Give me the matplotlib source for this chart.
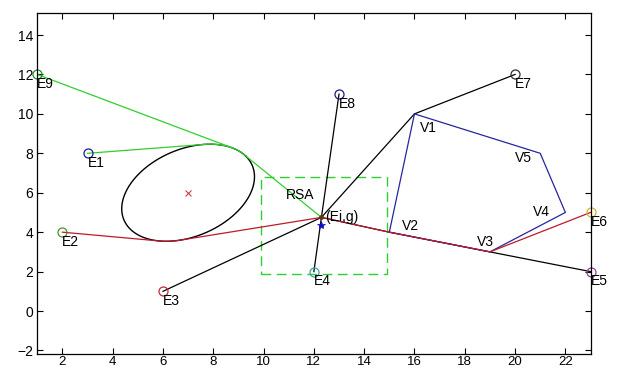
import numpy as np
import matplotlib
matplotlib.use("Agg")
import matplotlib.pyplot as plt

plt.rcParams['font.family'] = ['Liberation Sans', 'DejaVu Sans']

# Emitters E1..E9
emit_names = ['E1', 'E2', 'E3', 'E4', 'E5', 'E6', 'E7', 'E8', 'E9']
emit_x = [3, 2, 6, 12, 23, 23, 20, 13, 1]
emit_y = [8, 4, 1, 2, 2, 5, 12, 11, 12]
emit_colors = ['#1c1c96', '#4f8f2a', '#c4283a', '#3aa3a3', '#9a3c9a',
               '#d2b22a', '#303030', '#1c1c84', '#2c8c2c']

# Obstacle polygon V1..V5
vert_names = ['V1', 'V2', 'V3', 'V4', 'V5']
vert_x = [16, 15, 19, 22, 21]
vert_y = [10, 4, 3, 5, 8]
vert_label_x = [16.2, 15.5, 18.5, 20.7, 20.0]
vert_label_y = [9.3, 4.3, 3.5, 5.0, 7.75]

# Goal point and estimate
goal = (12.3, 4.75)
estimate = (12.3, 4.35)

# Elliptical obstacle
ell_center = (7.0, 6.0)
ell_a, ell_b, ell_angle = 2.95, 2.08, 39.0

# RSA region
rsa_x = [9.9, 14.9]
rsa_y = [1.9, 6.8]

phi = np.deg2rad(ell_angle)
u = np.array([np.cos(phi), np.sin(phi)])
v = np.array([-np.sin(phi), np.cos(phi)])
c = np.array(ell_center)


def ell_point(t):
    t = np.atleast_1d(t)
    return (c[:, None] + ell_a * np.cos(t) * u[:, None] + ell_b * np.sin(t) * v[:, None])


def tangent_params(p):
    d = np.array(p) - c
    q = np.array([d @ u / ell_a, d @ v / ell_b])
    r = np.hypot(*q)
    base = np.arctan2(q[1], q[0])
    off = np.arccos(1.0 / r)
    return [base + off, base - off]


def pick(p, key):
    ts = tangent_params(p)
    pts = [ell_point(t)[:, 0] for t in ts]
    i = max(range(2), key=lambda k: key(pts[k]))
    return ts[i] % (2 * np.pi)


def arc(t0, t1, ccw):
    if ccw:
        while t1 < t0:
            t1 += 2 * np.pi
    else:
        while t1 > t0:
            t1 -= 2 * np.pi
    return ell_point(np.linspace(t0, t1, 80))


fig = plt.figure(figsize=(6.17, 3.70), dpi=100)
ax = fig.add_axes([0.0603, 0.0432, 0.8968, 0.9224])

green = '#2fcf2f'
red = '#c0182c'
blue = '#26269e'
fs = 10

# Ellipse outline
tt = np.linspace(0, 2 * np.pi, 300)
ep = ell_point(tt)
ax.plot(ep[0], ep[1], color='black', lw=1.0)
ax.plot(*ell_center, marker='x', color='#d04040', ms=4, mew=0.8)

# RSA box
ax.plot([rsa_x[0], rsa_x[1], rsa_x[1], rsa_x[0], rsa_x[0]],
        [rsa_y[0], rsa_y[0], rsa_y[1], rsa_y[1], rsa_y[0]],
        color=green, lw=1.0, ls=(0, (7, 4)))

# Black straight paths
black_paths = [
    [(emit_x[2], emit_y[2]), goal],
    [(emit_x[7], emit_y[7]), goal, (emit_x[3], emit_y[3])],
    [(emit_x[6], emit_y[6]), (vert_x[0], vert_y[0]), goal],
    [(emit_x[4], emit_y[4]), (vert_x[2], vert_y[2]), (vert_x[1], vert_y[1]), goal],
]
for path in black_paths:
    xs, ys = zip(*path)
    ax.plot(xs, ys, color='black', lw=0.9)

# Obstacle polygon
ax.plot(vert_x + [vert_x[0]], vert_y + [vert_y[0]], color=blue, lw=0.9)

# Green paths around the top of the ellipse
t_e1 = pick((emit_x[0], emit_y[0]), lambda p: p[1])
t_e9 = pick((emit_x[8], emit_y[8]), lambda p: p[0])
t_gg = pick(goal, lambda p: p[1])
a1 = arc(t_e1, t_gg, ccw=False)
ax.plot([emit_x[0]] + list(a1[0]) + [goal[0]], [emit_y[0]] + list(a1[1]) + [goal[1]],
        color=green, lw=0.9)
p9 = ell_point(t_e9)[:, 0]
ax.plot([emit_x[8], p9[0]], [emit_y[8], p9[1]], color=green, lw=0.9)

# Red path under the ellipse and through the polygon edge
t_e2 = pick((emit_x[1], emit_y[1]), lambda p: -p[1])
t_gr = pick(goal, lambda p: -p[1])
a2 = arc(t_e2, t_gr, ccw=True)
rx = [emit_x[1]] + list(a2[0]) + [goal[0], vert_x[1], vert_x[2], emit_x[5]]
ry = [emit_y[1]] + list(a2[1]) + [goal[1], vert_y[1], vert_y[2], emit_y[5]]
ax.plot(rx, ry, color=red, lw=0.9)

# Markers and labels for emitters
for name, x, y, col in zip(emit_names, emit_x, emit_y, emit_colors):
    ax.plot(x, y, marker='o', mfc='none', mec=col, ms=6.5, mew=0.9, clip_on=False)
    ax.text(x, y - 0.5, name, ha='left', va='center', fontsize=fs, color='black')

for name, x, y in zip(vert_names, vert_label_x, vert_label_y):
    ax.text(x, y, name, ha='left', va='center', fontsize=fs, color='black')

ax.plot(*estimate, marker='*', color='#1010c0', ms=6, mew=0.5)
ax.plot(*goal, marker='o', color='#5a3a10', ms=2.5)
ax.text(10.87, 5.88, 'RSA', ha='left', va='center', fontsize=fs)
ax.text(12.43, 4.78, '(Ei,g)', ha='left', va='center', fontsize=fs)

ax.set_xlim(1, 23)
ax.set_ylim(-2.18, 15.13)
ax.set_xticks(np.arange(2, 23, 2))
ax.set_yticks(np.arange(-2, 15, 2))
ax.tick_params(direction='in', top=True, right=True, length=4, width=0.8,
               labelsize=fs, pad=3)
ax.tick_params(axis='x', labelsize=9.5, pad=1.5)
for s in ax.spines.values():
    s.set_linewidth(0.9)

fig.savefig('out.png', dpi=100)
